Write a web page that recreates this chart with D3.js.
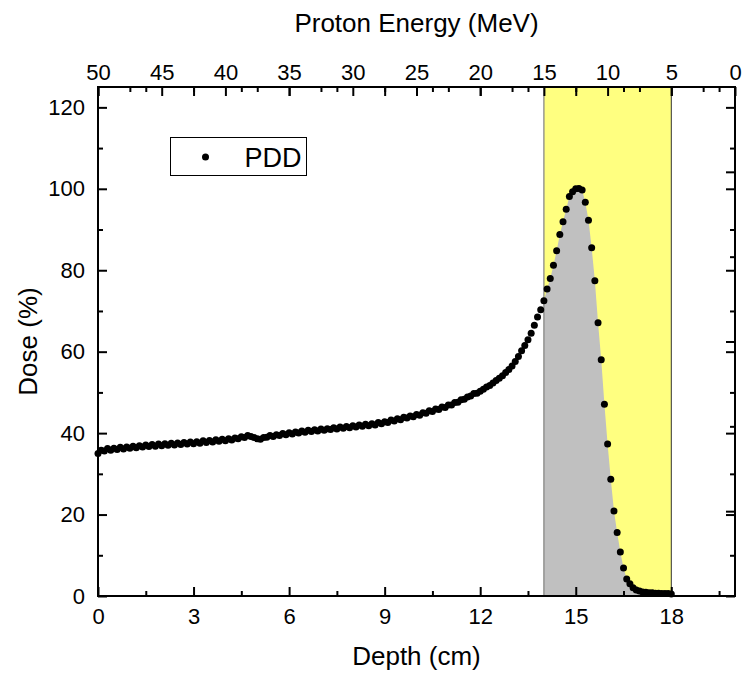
<!DOCTYPE html>
<html>
<head>
<meta charset="utf-8">
<script src="https://cdn.jsdelivr.net/npm/d3@7/dist/d3.min.js"></script>
<style>
  body { margin: 0; background: #fff; }
  svg { font-family: "Liberation Sans", Arial, sans-serif; }
  .tick text { font-size: 22px; fill: #000; }
  .tick line { stroke: #000; stroke-width: 2; }
</style>
</head>
<body>
<svg id="chart" width="744" height="674"></svg>
<script>
// percent depth dose, one reading every 0.1 cm from 0 to 18 cm
var depthStep = 0.1;
var dose = [
  35.0, 35.8, 35.6, 36.2, 35.8, 36.3, 36.0, 36.5, 36.1, 36.6,
  36.3, 36.8, 36.4, 36.9, 36.6, 37.1, 36.7, 37.2, 36.8, 37.3,
  36.9, 37.4, 37.0, 37.5, 37.1, 37.6, 37.2, 37.7, 37.3, 37.8,
  37.4, 37.9, 37.5, 38.1, 37.7, 38.2, 37.8, 38.4, 38.0, 38.5,
  38.1, 38.6, 38.3, 38.8, 38.6, 39.1, 38.9, 39.4, 39.2, 38.9,
  38.6, 38.5, 38.9, 39.0, 39.4, 39.2, 39.6, 39.4, 39.9, 39.6,
  40.1, 39.8, 40.3, 40.0, 40.5, 40.2, 40.7, 40.4, 40.8, 40.5,
  41.0, 40.7, 41.1, 40.9, 41.3, 41.0, 41.5, 41.2, 41.6, 41.3,
  41.8, 41.5, 42.0, 41.7, 42.2, 41.8, 42.3, 42.0, 42.6, 42.3,
  42.8, 42.6, 43.2, 43.0, 43.5, 43.3, 43.9, 43.7, 44.2, 44.0,
  44.6, 44.4, 45.0, 44.9, 45.5, 45.3, 45.9, 45.8, 46.4, 46.3,
  46.9, 46.9, 47.5, 47.6, 48.2, 48.3, 48.9, 49.1, 49.7, 49.8,
  50.3, 50.8, 51.3, 51.7, 52.3, 52.9, 53.5, 54.1, 54.9, 55.6,
  56.5, 57.6, 58.8, 60.2, 61.5, 62.9, 64.5, 66.5, 68.5, 70.3,
  72.5, 75.4, 78.0, 81.2, 84.8, 88.8, 91.9, 95.0, 98.1, 99.3,
  100.0, 100.1, 99.7, 96.7, 92.3, 85.5, 77.4, 67.1, 58.0, 47.1,
  37.3, 28.7, 20.9, 15.6, 10.8, 6.9, 4.2, 3.0, 2.0, 1.5,
  1.2, 1.0, 0.9, 0.8, 0.8, 0.7, 0.7, 0.6, 0.6, 0.6,
  0.5
];

var depthMajor = [0, 3, 6, 9, 12, 15, 18];
var depthMinor = [1.5, 4.5, 7.5, 10.5, 13.5, 16.5, 19.5];
var energyMajor = [50, 45, 40, 35, 30, 25, 20, 15, 10, 5, 0];
var energyMinor = [47.5, 42.5, 37.5, 32.5, 27.5, 22.5, 17.5, 12.5, 7.5, 2.5];
var doseMajor = [0, 20, 40, 60, 80, 100, 120];
var doseMinor = [10, 30, 50, 70, 90, 110];
var rightMajor = [1, 3, 5];
var rightMinor = [2, 4];
var bandRange = [14, 18];

(function() {
    'use strict';

    var points = dose.map(function(d, i) {
        return { depth: +(i * depthStep).toFixed(1), dose: d };
    });

    var m = { left: 98, right: 735, top: 87, bottom: 596 };

    var x = d3.scaleLinear().domain([0, 20]).range([m.left, m.right]);
    var xEnergy = d3.scaleLinear().domain([50, 0]).range([m.left, m.right]);
    var y = d3.scaleLinear().domain([0, 125]).range([m.bottom, m.top]);
    var yRight = d3.scaleLinear().domain([0, 6]).range([m.bottom, m.top]);

    var svg = d3.select('#chart');

    // yellow band for the peak region
    svg.append('rect')
        .attr('x', x(bandRange[0]))
        .attr('y', m.top)
        .attr('width', x(bandRange[1]) - x(bandRange[0]))
        .attr('height', m.bottom - m.top)
        .attr('fill', '#ffff80');

    var inBand = points.filter(function(p) { return p.depth >= bandRange[0]; });

    svg.append('path')
        .datum(inBand)
        .attr('d', d3.area()
            .x(function(p) { return x(p.depth); })
            .y0(y(0))
            .y1(function(p) { return y(p.dose); }))
        .attr('fill', '#c0c0c0');

    svg.append('line')
        .attr('x1', x(bandRange[0])).attr('x2', x(bandRange[0]))
        .attr('y1', m.top).attr('y2', m.bottom)
        .attr('stroke', '#808080').attr('stroke-width', 1.2);

    svg.append('line')
        .attr('x1', x(bandRange[1])).attr('x2', x(bandRange[1]))
        .attr('y1', m.top).attr('y2', m.bottom)
        .attr('stroke', '#333').attr('stroke-width', 1);

    svg.append('g')
        .selectAll('circle')
        .data(points)
        .join('circle')
        .attr('cx', function(p) { return x(p.depth); })
        .attr('cy', function(p) { return y(p.dose); })
        .attr('r', 3.5)
        .attr('fill', '#000');

    // ticks all point inward, like the original plot
    function ticks(axis, values, size, pad, labels, tx, ty) {
        var g = svg.append('g')
            .attr('transform', 'translate(' + tx + ',' + ty + ')')
            .call(axis.tickValues(values).tickSize(-size).tickPadding(pad)
                .tickFormat(labels ? d3.format('d') : ''));
        g.select('.domain').remove();
        return g;
    }

    ticks(d3.axisBottom(x), depthMajor, 9, 12, true, 0, m.bottom);
    ticks(d3.axisBottom(x), depthMinor, 5, 12, false, 0, m.bottom);
    ticks(d3.axisTop(x), depthMajor, 9, 7, false, 0, m.top);
    ticks(d3.axisTop(x), depthMinor, 5, 7, false, 0, m.top);
    ticks(d3.axisTop(xEnergy), energyMajor, 9, 7, true, 0, m.top);
    ticks(d3.axisTop(xEnergy), energyMinor, 5, 7, false, 0, m.top);
    ticks(d3.axisLeft(y), doseMajor, 9, 13, true, m.left, 0);
    ticks(d3.axisLeft(y), doseMinor, 5, 13, false, m.left, 0);
    ticks(d3.axisRight(y), doseMajor, 9, 7, false, m.right, 0);
    ticks(d3.axisRight(y), doseMinor, 5, 7, false, m.right, 0);
    ticks(d3.axisRight(yRight), rightMajor, 9, 7, false, m.right, 0);
    ticks(d3.axisRight(yRight), rightMinor, 5, 7, false, m.right, 0);

    svg.append('rect')
        .attr('x', m.left).attr('y', m.top)
        .attr('width', m.right - m.left).attr('height', m.bottom - m.top)
        .attr('fill', 'none').attr('stroke', '#000').attr('stroke-width', 2);

    // axis titles
    svg.append('text')
        .attr('x', (m.left + m.right) / 2).attr('y', 665)
        .attr('text-anchor', 'middle').attr('font-size', 26)
        .text('Depth (cm)');

    svg.append('text')
        .attr('x', (m.left + m.right) / 2).attr('y', 32)
        .attr('text-anchor', 'middle').attr('font-size', 26)
        .text('Proton Energy (MeV)');

    svg.append('text')
        .attr('transform', 'translate(37,' + (m.top + m.bottom) / 2 + ') rotate(-90)')
        .attr('text-anchor', 'middle').attr('font-size', 26)
        .text('Dose (%)');

    // legend
    var legend = svg.append('g').attr('transform', 'translate(170.5,137.5)');
    legend.append('rect')
        .attr('width', 136).attr('height', 38)
        .attr('fill', '#fff').attr('stroke', '#000').attr('stroke-width', 1);
    legend.append('circle').attr('cx', 35).attr('cy', 19.5).attr('r', 3.5).attr('fill', '#000');
    legend.append('text').attr('x', 74).attr('y', 29).attr('font-size', 27).text('PDD');
}());
</script>
</body>
</html>
